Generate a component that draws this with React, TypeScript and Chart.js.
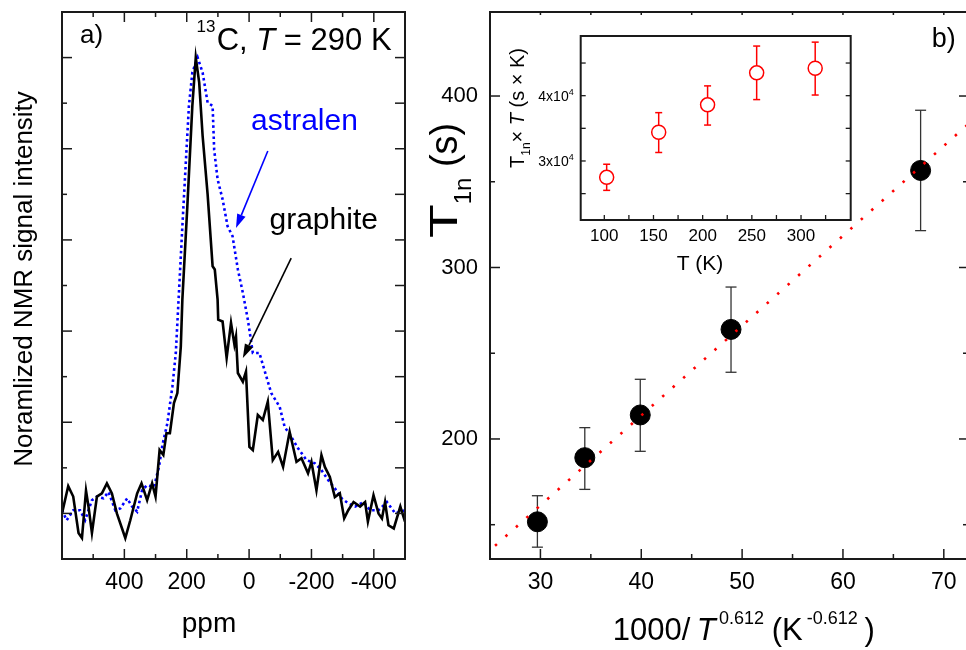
import React, { useEffect, useRef } from "react";
import { Chart, registerables } from "chart.js";

Chart.register(...registerables);

const FONT = "'Liberation Sans', Arial, Helvetica, sans-serif";

// ---------- Panel a) 13C NMR spectra ----------
const graphitePpm = [600, 580, 564, 547, 536, 523, 515, 504, 488, 472, 456, 440, 424, 397, 381, 359, 345, 327, 311, 300, 287, 275, 265, 254, 241, 230, 219, 214, 198, 182, 171, 160, 149, 133, 117, 110, 101, 99, 85, 72, 58, 47, 42, 36, 20, 10, -1, -12, -28, -44, -60, -76, -93, -109, -130, -152, -168, -189, -200, -216, -232, -243, -259, -275, -291, -305, -318, -335, -356, -372, -381, -399, -415, -426, -436, -447, -464, -485, -500];
const graphiteInt = [0.0, 0.06, 0.037, -0.043, -0.054, 0.05, 0.015, -0.043, 0.037, 0.044, 0.066, 0.044, 0.0, -0.054, -0.015, 0.044, 0.066, 0.029, 0.066, 0.037, 0.139, 0.128, 0.176, 0.176, 0.242, 0.264, 0.366, 0.469, 0.674, 0.894, 1.0, 0.945, 0.828, 0.7, 0.542, 0.535, 0.469, 0.425, 0.421, 0.341, 0.418, 0.37, 0.388, 0.308, 0.289, 0.311, 0.146, 0.139, 0.216, 0.205, 0.245, 0.117, 0.135, 0.102, 0.179, 0.113, 0.121, 0.088, 0.113, 0.051, 0.128, 0.102, 0.08, 0.036, 0.044, -0.011, 0.007, 0.025, 0.015, 0.025, -0.018, 0.04, 0.0, -0.011, 0.025, -0.026, -0.033, 0.015, -0.018];
const astralenPpm = [600, 585, 564, 542, 526, 504, 488, 467, 451, 429, 413, 391, 375, 359, 343, 327, 305, 289, 278, 262, 246, 235, 225, 214, 203, 193, 182, 165, 149, 133, 117, 112, 101, 85, 69, 53, 36, 20, 4, -12, -33, -49, -71, -98, -114, -135, -157, -184, -211, -232, -254, -275, -297, -318, -340, -367, -388, -415, -442, -469, -500];
const astralenInt = [0.007, -0.015, 0.007, 0.007, -0.015, 0.029, 0.037, 0.033, 0.047, 0.007, 0.011, 0.033, 0.015, 0.004, 0.051, 0.062, 0.058, 0.102, 0.15, 0.198, 0.278, 0.352, 0.484, 0.63, 0.769, 0.894, 0.967, 1.0, 0.967, 0.901, 0.894, 0.798, 0.733, 0.689, 0.63, 0.608, 0.535, 0.484, 0.425, 0.352, 0.352, 0.315, 0.264, 0.234, 0.19, 0.168, 0.143, 0.117, 0.11, 0.095, 0.073, 0.055, 0.033, 0.022, 0.015, 0.025, 0.007, 0.007, 0.025, 0.0, 0.007];
const ppmMajorTicks = [400, 200, 0, -200, -400];
const ppmMinorTicks = [500, 300, 100, -100, -300];
const intMajorTicks = [0, 0.2, 0.4, 0.6, 0.8, 1.0];
const intMinorTicks = [0.1, 0.3, 0.5, 0.7, 0.9];

// ---------- Panel b) T1n vs 1000/T^0.612 ----------
const invT = [29.7, 34.4, 39.9, 48.9, 67.7];
const t1n = [151.7, 189.1, 214.0, 263.9, 356.6];
const t1nErrLow = [136.9, 170.6, 192.8, 238.9, 321.5];
const t1nErrHigh = [166.9, 206.6, 234.8, 288.6, 391.7];
const fitX = [25.5, 72.5];
const fitY = [137.7, 384.0];
const bXMajor = [30, 40, 50, 60, 70];
const bXMinor = [35, 45, 55, 65];
const bYMajor = [200, 300, 400];
const bYMinor = [150, 250, 350];

// ---------- Inset: T1n x T vs T ----------
const insetT = [102.4, 155.3, 205, 254.9, 314.4];
const insetT1T = [27500, 34400, 38600, 43500, 44200];
const insetErrLow = [25500, 31300, 35500, 39400, 40100];
const insetErrHigh = [29500, 37400, 41500, 47600, 48200];
const insetXLabels = [100, 150, 200, 250, 300];
const insetXTicks = [100, 125, 150, 175, 200, 225, 250, 275, 300, 325];
const insetYLabels = [30000, 40000];
const insetYTicks = [25000, 30000, 35000, 40000, 45000];

type Piece = { t: string; size: number; italic?: boolean; dy?: number; sx?: number; gap?: number };

function drawPieces(ctx: CanvasRenderingContext2D, x: number, y: number, pieces: Piece[]) {
  let cx = x;
  ctx.textAlign = "left";
  ctx.textBaseline = "alphabetic";
  for (const p of pieces) {
    ctx.font = `${p.italic ? "italic " : ""}${p.size}px ${FONT}`;
    const sx = p.sx ?? 1;
    cx += p.gap ?? 0;
    const w = ctx.measureText(p.t).width * sx;
    ctx.save();
    ctx.translate(cx, y + (p.dy ?? 0));
    ctx.scale(sx, 1);
    ctx.fillText(p.t, 0, 0);
    ctx.restore();
    cx += w;
  }
  return cx;
}

function piecesWidth(ctx: CanvasRenderingContext2D, pieces: Piece[]) {
  let w = 0;
  for (const p of pieces) {
    ctx.font = `${p.italic ? "italic " : ""}${p.size}px ${FONT}`;
    w += ctx.measureText(p.t).width * (p.sx ?? 1) + (p.gap ?? 0);
  }
  return w;
}

function line(ctx: CanvasRenderingContext2D, x1: number, y1: number, x2: number, y2: number) {
  ctx.beginPath();
  ctx.moveTo(x1, y1);
  ctx.lineTo(x2, y2);
  ctx.stroke();
}

function ticks(chart: any, axis: "bottom" | "top" | "left" | "right", vals: number[], len: number) {
  const ctx = chart.ctx as CanvasRenderingContext2D;
  const ca = chart.chartArea;
  const xs = chart.scales.x;
  const ys = chart.scales.y;
  for (const v of vals) {
    if (axis === "bottom" || axis === "top") {
      const px = xs.getPixelForValue(v);
      if (axis === "bottom") line(ctx, px, ca.bottom, px, ca.bottom - len);
      else line(ctx, px, ca.top, px, ca.top + len);
    } else {
      const py = ys.getPixelForValue(v);
      if (axis === "left") line(ctx, ca.left, py, ca.left + len, py);
      else line(ctx, ca.right, py, ca.right - len, py);
    }
  }
}

function frame(chart: any, lw: number) {
  const ctx = chart.ctx as CanvasRenderingContext2D;
  const ca = chart.chartArea;
  ctx.strokeStyle = "#1a1a1a";
  ctx.lineWidth = lw;
  ctx.strokeRect(ca.left, ca.top, ca.right - ca.left, ca.bottom - ca.top);
}

function arrow(ctx: CanvasRenderingContext2D, x1: number, y1: number, x2: number, y2: number, color: string) {
  const ang = Math.atan2(y2 - y1, x2 - x1);
  const hl = 14;
  const hw = 4.5;
  const bx = x2 - hl * Math.cos(ang);
  const by = y2 - hl * Math.sin(ang);
  ctx.strokeStyle = color;
  ctx.fillStyle = color;
  ctx.lineWidth = 1.6;
  line(ctx, x1, y1, bx, by);
  ctx.beginPath();
  ctx.moveTo(x2, y2);
  ctx.lineTo(bx + hw * Math.sin(ang), by - hw * Math.cos(ang));
  ctx.lineTo(bx - hw * Math.sin(ang), by + hw * Math.cos(ang));
  ctx.closePath();
  ctx.fill();
}

function baseOptions(padding: any) {
  return {
    responsive: false,
    maintainAspectRatio: false,
    animation: false as const,
    devicePixelRatio: 1,
    events: [] as any[],
    layout: { padding, autoPadding: false },
    plugins: { legend: { display: false }, tooltip: { enabled: false } },
  };
}

// ---------- config factories ----------
function makeSpectrum(): any {
  const plugin = {
    id: "spectrumDecor",
    afterDraw(chart: any) {
      const ctx = chart.ctx as CanvasRenderingContext2D;
      const ca = chart.chartArea;
      const xs = chart.scales.x;
      const ys = chart.scales.y;
      ctx.save();
      frame(chart, 2);
      ctx.lineWidth = 1.5;
      ticks(chart, "bottom", ppmMajorTicks, 10);
      ticks(chart, "bottom", ppmMinorTicks, 5);
      ticks(chart, "top", ppmMajorTicks, 10);
      ticks(chart, "top", ppmMinorTicks, 5);
      ticks(chart, "left", intMajorTicks, 10);
      ticks(chart, "left", intMinorTicks, 5);
      ticks(chart, "right", intMajorTicks, 10);
      ticks(chart, "right", intMinorTicks, 10);

      ctx.fillStyle = "#000";
      ctx.font = `23px ${FONT}`;
      ctx.textAlign = "center";
      ctx.textBaseline = "alphabetic";
      for (const v of ppmMajorTicks) ctx.fillText(String(v), xs.getPixelForValue(v), ca.bottom + 30);

      ctx.font = `28px ${FONT}`;
      ctx.fillText("ppm", 209, 632);

      ctx.save();
      ctx.translate(32, 279);
      ctx.rotate(-Math.PI / 2);
      ctx.font = `26px ${FONT}`;
      ctx.textAlign = "center";
      ctx.fillText("Noramlized NMR signal intensity", 0, 0);
      ctx.restore();

      ctx.textAlign = "left";
      ctx.font = `26px ${FONT}`;
      ctx.fillText("a)", 80, 43);

      drawPieces(ctx, 196.5, 32, [{ t: "13", size: 17 }]);
      drawPieces(ctx, 216.7, 50, [
        { t: "C, ", size: 31 },
        { t: "T", size: 31, italic: true },
        { t: " = 290 K", size: 31 },
      ]);

      // annotations (in data coordinates)
      arrow(ctx, xs.getPixelForValue(-60), ys.getPixelForValue(0.795), xs.getPixelForValue(42), ys.getPixelForValue(0.626), "#0000ff");
      arrow(ctx, xs.getPixelForValue(-135), ys.getPixelForValue(0.56), xs.getPixelForValue(20), ys.getPixelForValue(0.341), "#000");
      ctx.font = `30px ${FONT}`;
      ctx.fillStyle = "#0000ff";
      ctx.fillText("astralen", xs.getPixelForValue(-6.5), ys.getPixelForValue(0.841));
      ctx.fillStyle = "#000";
      ctx.fillText("graphite", xs.getPixelForValue(-65.5), ys.getPixelForValue(0.623));
      ctx.restore();
    },
  };
  return {
    type: "scatter",
    data: {
      datasets: [
        {
          label: "graphite",
          data: graphitePpm.map((x, i) => ({ x, y: graphiteInt[i] })),
          showLine: true,
          borderColor: "#000",
          borderWidth: 2.6,
          pointRadius: 0,
          order: 0,
        },
        {
          label: "astralen",
          data: astralenPpm.map((x, i) => ({ x, y: astralenInt[i] })),
          showLine: true,
          borderColor: "#0000ff",
          borderWidth: 2.6,
          borderDash: [2.6, 3],
          pointRadius: 0,
          order: 1,
        },
      ],
    },
    options: {
      ...baseOptions({ left: 62, right: 15, top: 12, bottom: 91 }),
      scales: {
        x: { type: "linear", display: false, min: -500, max: 600, reverse: true },
        y: { type: "linear", display: false, min: -0.1, max: 1.1 },
      },
    },
    plugins: [plugin],
  };
}

function makeT1(): any {
  const plugin = {
    id: "t1Decor",
    beforeDatasetsDraw(chart: any) {
      const ctx = chart.ctx as CanvasRenderingContext2D;
      const xs = chart.scales.x;
      const ys = chart.scales.y;
      ctx.save();
      ctx.strokeStyle = "#333";
      ctx.lineWidth = 1.3;
      invT.forEach((v, i) => {
        const px = xs.getPixelForValue(v);
        const y1 = ys.getPixelForValue(t1nErrLow[i]);
        const y2 = ys.getPixelForValue(t1nErrHigh[i]);
        line(ctx, px, y1, px, y2);
        line(ctx, px - 5.5, y1, px + 5.5, y1);
        line(ctx, px - 5.5, y2, px + 5.5, y2);
      });
      ctx.restore();
    },
    afterDraw(chart: any) {
      const ctx = chart.ctx as CanvasRenderingContext2D;
      const ca = chart.chartArea;
      const xs = chart.scales.x;
      const ys = chart.scales.y;
      ctx.save();
      frame(chart, 2);
      ctx.lineWidth = 1.5;
      ticks(chart, "bottom", bXMajor, 10);
      ticks(chart, "bottom", bXMinor, 5);
      ticks(chart, "top", bXMajor, 3);
      ticks(chart, "top", bXMinor, 3);
      ticks(chart, "left", bYMajor, 10);
      ticks(chart, "left", bYMinor, 5);
      ticks(chart, "right", bYMajor, 8);
      ticks(chart, "right", bYMinor, 4);

      ctx.fillStyle = "#000";
      ctx.font = `23px ${FONT}`;
      ctx.textAlign = "center";
      ctx.textBaseline = "alphabetic";
      for (const v of bXMajor) ctx.fillText(String(v), xs.getPixelForValue(v), ca.bottom + 30);
      ctx.font = `22px ${FONT}`;
      ctx.textAlign = "right";
      ctx.textBaseline = "middle";
      for (const v of bYMajor) ctx.fillText(String(v), ca.left - 12, ys.getPixelForValue(v));

      // x title
      const base = 640;
      const ox = -400;
      const parts: [string, number, number, boolean, number][] = [
        ["1000/", 612.7, 31, false, 0],
        ["T", 696.7, 31, true, 0],
        ["0.612", 719, 18, false, -16.5],
        ["(K", 771.7, 31, false, 0],
        ["-0.612", 806.7, 18, false, -16.5],
        [")", 864.5, 31, false, 0],
      ];
      ctx.textAlign = "left";
      ctx.textBaseline = "alphabetic";
      for (const [t, x, s, it, dy] of parts) {
        ctx.font = `${it ? "italic " : ""}${s}px ${FONT}`;
        ctx.fillText(t, x + ox, base + dy);
      }

      // y title
      ctx.save();
      ctx.translate(57, 238);
      ctx.rotate(-Math.PI / 2);
      drawPieces(ctx, 0, 0, [
        { t: "T", size: 38, sx: 1.45 },
        { t: "1n", size: 24, dy: 14 },
        { t: " (s)", size: 38 },
      ]);
      ctx.restore();

      ctx.font = `27px ${FONT}`;
      ctx.fillText("b)", 531.7, 47);
      ctx.restore();
    },
  };
  return {
    type: "scatter",
    data: {
      datasets: [
        {
          label: "fit",
          data: fitX.map((x, i) => ({ x, y: fitY[i] })),
          showLine: true,
          borderColor: "#ff0000",
          borderWidth: 2.6,
          borderDash: [2.5, 11.5],
          pointRadius: 0,
          order: 0,
        },
        {
          label: "T1n",
          data: invT.map((x, i) => ({ x, y: t1n[i] })),
          pointRadius: 10,
          pointBorderWidth: 1,
          pointBackgroundColor: "#000",
          pointBorderColor: "#000",
          order: 1,
        },
      ],
    },
    options: {
      ...baseOptions({ left: 90, right: 3, top: 12, bottom: 91 }),
      scales: {
        x: { type: "linear", display: false, min: 25, max: 72.3 },
        y: { type: "linear", display: false, min: 130, max: 449 },
      },
    },
    plugins: [plugin],
  };
}

function makeInset(): any {
  const plugin = {
    id: "insetDecor",
    beforeDatasetsDraw(chart: any) {
      const ctx = chart.ctx as CanvasRenderingContext2D;
      const xs = chart.scales.x;
      const ys = chart.scales.y;
      ctx.save();
      ctx.strokeStyle = "#ff0000";
      ctx.lineWidth = 1.5;
      insetT.forEach((v, i) => {
        const px = xs.getPixelForValue(v);
        const y1 = ys.getPixelForValue(insetErrLow[i]);
        const y2 = ys.getPixelForValue(insetErrHigh[i]);
        line(ctx, px, y1, px, y2);
        line(ctx, px - 3.5, y1, px + 3.5, y1);
        line(ctx, px - 3.5, y2, px + 3.5, y2);
      });
      ctx.restore();
    },
    afterDraw(chart: any) {
      const ctx = chart.ctx as CanvasRenderingContext2D;
      const ca = chart.chartArea;
      const xs = chart.scales.x;
      const ys = chart.scales.y;
      ctx.save();
      frame(chart, 2);
      ctx.lineWidth = 1.3;
      ticks(chart, "bottom", insetXTicks, 5);
      ticks(chart, "left", insetYTicks, 5);
      ticks(chart, "right", insetYTicks, 5);

      ctx.fillStyle = "#000";
      ctx.font = `17px ${FONT}`;
      ctx.textAlign = "center";
      ctx.textBaseline = "alphabetic";
      for (const v of insetXLabels) ctx.fillText(String(v), xs.getPixelForValue(v), ca.bottom + 20.7);
      ctx.font = `21px ${FONT}`;
      ctx.fillText("T (K)", 200, 250);

      for (const v of insetYLabels) {
        const pieces: Piece[] = [
          { t: `${Math.round(v / 10000)}x10`, size: 14 },
          { t: "4", size: 9, dy: -6 },
        ];
        const w = piecesWidth(ctx, pieces);
        drawPieces(ctx, ca.left - 7 - w, ys.getPixelForValue(v) + 5, pieces);
      }

      ctx.save();
      ctx.translate(23.5, 148);
      ctx.rotate(-Math.PI / 2);
      drawPieces(ctx, 0, 0, [
        { t: "T", size: 20 },
        { t: "1n", size: 12, dy: 6 },
        { t: "\u00d7 ", size: 20 },
        { t: "T", size: 20, italic: true },
        { t: " (s \u00d7 K)", size: 20 },
      ]);
      ctx.restore();
      ctx.restore();
    },
  };
  return {
    type: "scatter",
    data: {
      datasets: [
        {
          label: "T1n x T",
          data: insetT.map((x, i) => ({ x, y: insetT1T[i] })),
          pointRadius: 7,
          pointBorderWidth: 1.5,
          pointBackgroundColor: "#fff",
          pointBorderColor: "#ff0000",
        },
      ],
    },
    options: {
      ...baseOptions({ left: 80.7, right: 9.3, top: 16, bottom: 70 }),
      scales: {
        x: { type: "linear", display: false, min: 76, max: 350.5 },
        y: { type: "linear", display: false, min: 20960, max: 49140 },
      },
    },
    plugins: [plugin],
  };
}

function ChartCanvas({ left, top, width, height, make }: { left: number; top: number; width: number; height: number; make: () => any }) {
  const ref = useRef<HTMLCanvasElement>(null);
  useEffect(() => {
    const chart = new Chart(ref.current as HTMLCanvasElement, make());
    return () => chart.destroy();
  }, []);
  return (
    <canvas
      ref={ref}
      width={width}
      height={height}
      style={{ position: "absolute", left, top, width, height, display: "block" }}
    />
  );
}

export default function App() {
  return (
    <div
      style={{
        position: "absolute",
        left: 0,
        top: 0,
        width: 966,
        height: 650,
        overflow: "hidden",
        background: "#fff",
      }}
    >
      <ChartCanvas left={0} top={0} width={420} height={650} make={makeSpectrum} />
      <ChartCanvas left={400} top={0} width={570} height={650} make={makeT1} />
      <ChartCanvas left={500} top={20} width={360} height={270} make={makeInset} />
    </div>
  );
}
